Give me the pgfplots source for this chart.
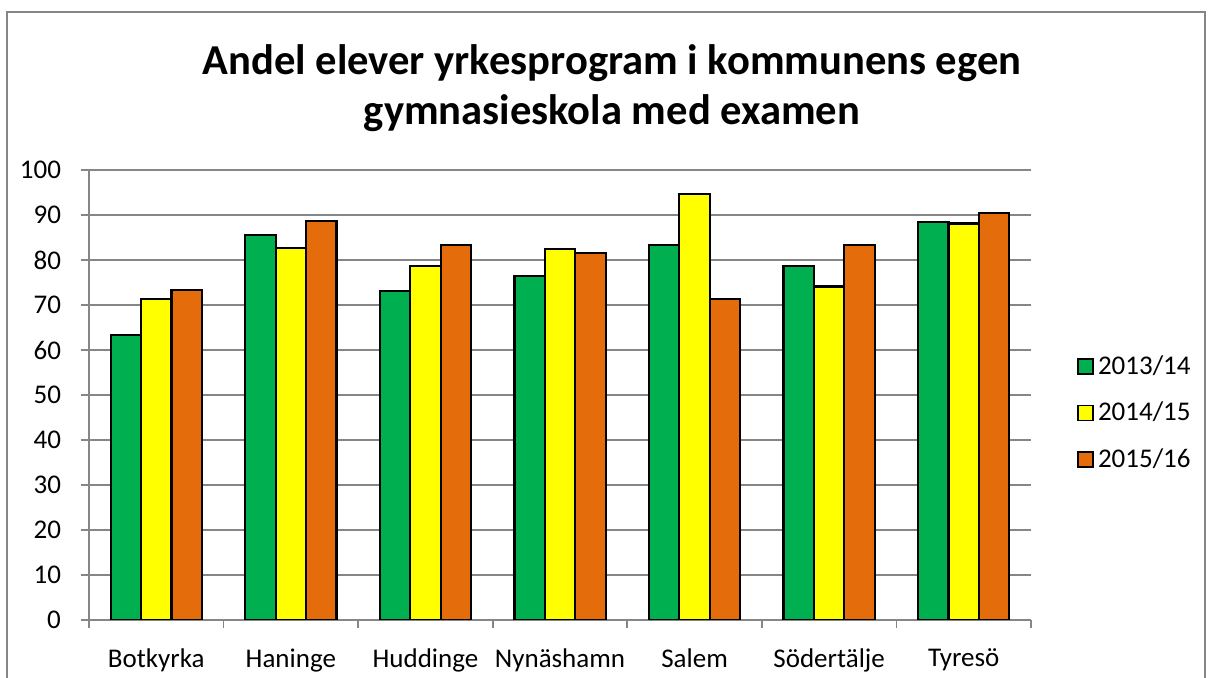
\documentclass[border=0pt]{standalone}
\usepackage{pgfplots}
\pgfplotsset{compat=1.18}
\usepackage{fontspec}
\setmainfont{Carlito}
\definecolor{cgreen}{HTML}{00B050}
\definecolor{cyellow}{HTML}{FFFF00}
\definecolor{corange}{HTML}{E46C0A}
\definecolor{cgrid}{HTML}{868686}
\begin{document}
\begin{tikzpicture}[x=1pt,y=1pt]
\useasboundingbox (0,0) rectangle (606.5,339);
\fill[white] (0,0) rectangle (606.5,339);
\draw[cgrid, line width=0.8pt] (3.5,-5) -- (3.5,333) -- (602.5,333) -- (602.5,-5);
\node[anchor=base, font=\fontsize{21.3}{25}\selectfont\bfseries] at (306,301.5) {Andel elever yrkesprogram i kommunens egen};
\node[anchor=base, font=\fontsize{21.3}{25}\selectfont\bfseries] at (306,276.5) {gymnasieskola med examen};
\begin{axis}[
  at={(44.5pt,29pt)}, anchor=south west,
  scale only axis, width=471pt, height=225pt,
  ymin=0, ymax=100, ytick={0,10,...,100},
  xmin=-0.5, xmax=6.5,
  xtick={0,...,6},
  xticklabels={Botkyrka,Haninge,Huddinge,Nynäshamn,Salem,Södertälje,Tyresö},
  minor xtick={-0.5,0.5,...,6.5},
  major x tick style={draw=none},
  minor x tick style={draw=cgrid, line width=0.8pt},
  major y tick style={draw=cgrid, line width=0.8pt},
  tick align=outside, major tick length=4pt, minor tick length=4pt,
  axis lines*=left,
  axis line style={draw=cgrid, line width=0.8pt, -},
  ymajorgrids, grid style={draw=cgrid, line width=0.9pt},
  tick label style={font=\fontsize{13.5}{16}\selectfont},
  /pgf/number format/assume math mode=true,
  yticklabel style={xshift=-6.5pt},
  xticklabel style={yshift=-7pt},
  ybar=0pt, bar width=15.2pt,
  legend style={at={(1,0.5)}, anchor=west, xshift=20pt, yshift=-9pt, draw=none, fill=none,
    font=\fontsize{13.5}{16}\selectfont, row sep=8.5pt, legend cell align=left},
  legend image code/.code={\draw[#1, draw=black, line width=0.8pt] (0pt,-3.75pt) rectangle (7.5pt,3.75pt);},
  every axis plot/.append style={draw=black, line width=1.1pt},
]
\addplot[fill=cgreen] coordinates {(0,63.3) (1,85.6) (2,73.1) (3,76.5) (4,83.3) (5,78.6) (6,88.5)};
\addplot[fill=cyellow] coordinates {(0,71.3) (1,82.7) (2,78.6) (3,82.4) (4,94.7) (5,74.1) (6,88.1)};
\addplot[fill=corange] coordinates {(0,73.3) (1,88.6) (2,83.3) (3,81.6) (4,71.4) (5,83.3) (6,90.4)};
\legend{2013/14,2014/15,2015/16}
\end{axis}
\end{tikzpicture}
\end{document}
